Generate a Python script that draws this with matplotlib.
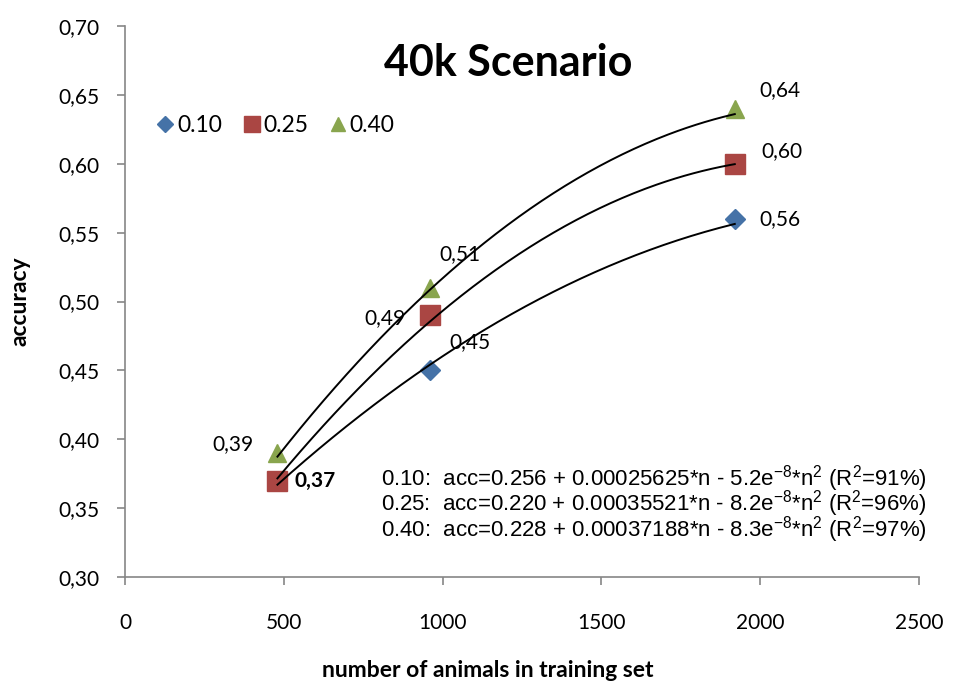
import numpy as np
import matplotlib
matplotlib.use("Agg")
import matplotlib.pyplot as plt
from matplotlib.lines import Line2D

# === data ===
n_train = [480, 960, 1920]
acc_010 = [0.37, 0.45, 0.56]
acc_025 = [0.37, 0.49, 0.60]
acc_040 = [0.39, 0.51, 0.64]

# fitted quadratic trends: acc = a + b*n + c*n^2
coef_010 = [0.256, 0.00025625, -5.2e-8]
coef_025 = [0.220, 0.00035521, -8.2e-8]
coef_040 = [0.228, 0.00037188, -8.3e-8]

eq_lines = [
    r"0.10:  acc=0.256 + 0.00025625*n - 5.2e$^{-8}$*n$^{2}$ (R$^{2}$=91%)",
    r"0.25:  acc=0.220 + 0.00035521*n - 8.2e$^{-8}$*n$^{2}$ (R$^{2}$=96%)",
    r"0.40:  acc=0.228 + 0.00037188*n - 8.3e$^{-8}$*n$^{2}$ (R$^{2}$=97%)",
]

plt.rcParams['font.family'] = ['Lato', 'DejaVu Sans']
plt.rcParams['mathtext.fontset'] = 'custom'
plt.rcParams['mathtext.rm'] = 'Liberation Sans'

fig = plt.figure(figsize=(9.63, 6.84), dpi=100)
ax = fig.add_axes([0.1298, 0.1564, 0.8245, 0.8056])

series = [
    ("0.10", acc_010, coef_010, "D", "#4572A7", 9.8),
    ("0.25", acc_025, coef_025, "s", "#AA4643", 14),
    ("0.40", acc_040, coef_040, "^", "#89A54E", 12.5),
]

handles = []
for name, acc, coef, mk, col, ms in series:
    ax.plot(n_train, acc, linestyle="none", marker=mk, color=col,
            markersize=ms, markeredgecolor=col, zorder=3)
    nn = np.linspace(n_train[0], n_train[-1], 200)
    fit = coef[0] + coef[1] * nn + coef[2] * nn ** 2
    ax.plot(nn, fit, color="black", lw=1.4, zorder=4)
    handles.append(Line2D([], [], linestyle="none", marker=mk, color=col,
                          markersize=ms * 0.8, label=name))

# data labels (px offsets from the marker)
lbl_off = {
    ("0.10", 0): None,
    ("0.25", 0): (38, 0),
    ("0.40", 0): (-45, 9),
    ("0.10", 1): (40, 28),
    ("0.25", 1): (-45, -3),
    ("0.40", 1): (30, 34),
    ("0.10", 2): (45, 0),
    ("0.25", 2): (47, 13),
    ("0.40", 2): (45, 19),
}
for name, acc, coef, mk, col, ms in series:
    for i, (x, y) in enumerate(zip(n_train, acc)):
        off = lbl_off[(name, i)]
        if off is None:
            continue
        weight = "bold" if (name, i) == ("0.25", 0) else "normal"
        ax.annotate(f"{y:.2f}".replace(".", ","), (x, y),
                    xytext=(off[0] * 0.72, off[1] * 0.72),
                    textcoords="offset points", ha="center", va="center",
                    fontsize=15, fontweight=weight, zorder=5)

ax.set_xlim(0, 2500)
ax.set_ylim(0.30, 0.70)
ax.set_xticks(np.arange(0, 2501, 500))
ax.set_yticks(np.arange(0.30, 0.701, 0.05))
ax.set_yticklabels([f"{v:.2f}".replace(".", ",") for v in np.arange(0.30, 0.701, 0.05)])

for s in ["top", "right"]:
    ax.spines[s].set_visible(False)
for s in ["left", "bottom"]:
    ax.spines[s].set_color("#868686")
    ax.spines[s].set_linewidth(1.2)
ax.tick_params(axis="both", colors="#868686", length=6, width=1.2, labelcolor="black",
               labelsize=15)
ax.tick_params(axis="y", pad=12)
ax.tick_params(axis="x", pad=20)

ax.set_xlabel("number of animals in training set", fontsize=16.5, fontweight="bold",
              va="center")
ax.set_ylabel("accuracy", fontsize=16.5, fontweight="bold", va="center")
ax.xaxis.set_label_coords(0.457, -0.169)
ax.yaxis.set_label_coords(-0.132, 0.5)

ax.set_title("40k Scenario", fontsize=31, fontweight="bold", x=0.482, y=0.895)

ax.legend(handles=handles, loc="center left", bbox_to_anchor=(0.025, 0.82),
          ncol=3, frameon=False, fontsize=16.5, handletextpad=0.0,
          columnspacing=0.8, handlelength=1.0, borderaxespad=0)

ax.text(0.322, 0.133, "\n".join(eq_lines), transform=ax.transAxes,
        fontsize=16, family="Liberation Sans", va="center", ha="left",
        linespacing=0.76)

fig.savefig("out.png", dpi=100)
